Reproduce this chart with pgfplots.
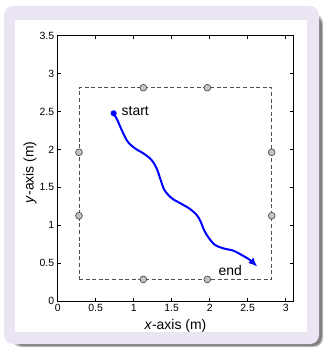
\documentclass[border=0pt]{standalone}
\usepackage{fontspec}
\setmainfont{Liberation Sans}
\usepackage{pgfplots}
\pgfplotsset{compat=1.18}
\usetikzlibrary{arrows.meta}
\definecolor{framecol}{RGB}{235,229,243}
\definecolor{dashcol}{RGB}{80,80,80}
\definecolor{circfill}{RGB}{195,195,195}
\begin{document}
\begin{tikzpicture}[x=1bp,y=1bp]
\useasboundingbox (0,0) rectangle (324,-348);
\fill[black!25, rounded corners=9bp] (12,-14) rectangle (323,-347);
\fill[black!50, rounded corners=9bp] (14,-16) rectangle (322,-346);
\fill[framecol, rounded corners=9bp] (4,-6) rectangle (319,-344);
\fill[white] (15,-20) rectangle (307,-332);
\begin{axis}[
  at={(57.7bp,-301bp)}, anchor=south west,
  scale only axis, width=235.6bp, height=265.3bp,
  xmin=0, xmax=3.1, ymin=0, ymax=3.5,
  xtick={0,0.5,1,1.5,2,2.5,3},
  ytick={0,0.5,1,1.5,2,2.5,3,3.5},
  tick align=inside, major tick length=3bp,
  axis line style={line width=0.8bp},
  tick style={black, line width=0.6bp},
  /pgf/number format/assume math mode=true,
  ticklabel style={font=\fontsize{10.5}{12}\selectfont},
  xlabel={\textit{x}-axis (m)},
  ylabel={\textit{y}-axis (m)},
  label style={font=\fontsize{14}{16}\selectfont},
  xlabel style={at={(axis description cs:0.5,-0.094)}, anchor=center},
  ylabel style={at={(axis description cs:-0.118,0.485)}, anchor=center},
]
\addplot[dashcol, line width=0.8bp, dash pattern=on 4bp off 2.6bp]
  coordinates {(0.28,0.285) (2.816,0.285) (2.816,2.814) (0.28,2.814) (0.28,0.285)};
\addplot[only marks, mark=*, mark size=3.4bp, mark options={fill=circfill, draw=dashcol, line width=0.7bp}]
  coordinates {(1.127,2.814) (1.969,2.814) (0.28,1.962) (0.28,1.125)
               (2.816,1.962) (2.816,1.125) (1.127,0.285) (1.969,0.285)};
\addplot[blue, line width=2bp, smooth, tension=0.5, -{Latex[length=9bp,width=7.5bp]}]
  coordinates {
  (0.736,2.476) (0.785,2.388) (0.842,2.256) (0.921,2.102) (1.017,2.014)
  (1.127,1.948) (1.214,1.882) (1.267,1.816) (1.311,1.728) (1.355,1.596)
  (1.399,1.473) (1.456,1.398) (1.521,1.341) (1.631,1.280) (1.741,1.214)
  (1.829,1.135) (1.881,1.047) (1.925,0.937) (1.982,0.840) (2.070,0.739)
  (2.179,0.695) (2.311,0.664) (2.421,0.607) (2.530,0.541) (2.627,0.453)};
\addplot[only marks, blue, mark=*, mark size=2.8bp] coordinates {(0.736,2.476)};
\node[anchor=west, font=\fontsize{14}{16}\selectfont, inner sep=0pt] at (axis cs:0.84,2.507) {start};
\node[anchor=center, font=\fontsize{14}{16}\selectfont, inner sep=0pt] at (axis cs:2.271,0.40) {end};
\end{axis}
\end{tikzpicture}
\end{document}
